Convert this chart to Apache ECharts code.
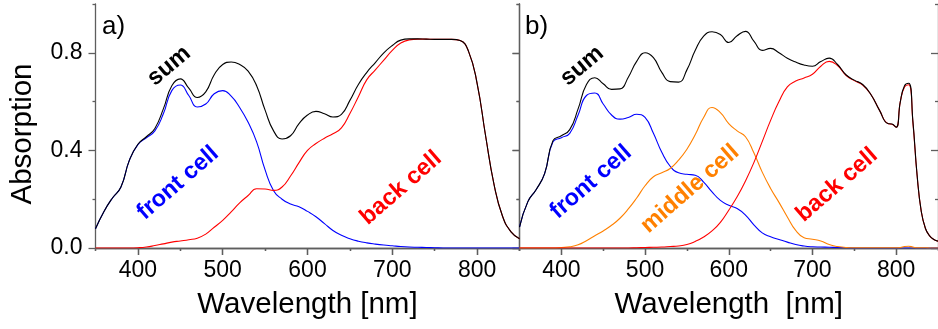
<!DOCTYPE html>
<html>
<head>
<meta charset="utf-8">
<script src="https://cdn.jsdelivr.net/npm/echarts@6/dist/echarts.min.js"></script>
<style>
  html, body { margin: 0; padding: 0; background: #fff; }
  #chart { width: 938px; height: 329px; }
</style>
</head>
<body>
<div id="chart"></div>
<script>
// wavelength grid of panel a) [nm]
const wavelengthA = [350, 360, 370, 380, 390, 400, 410, 420, 430, 440, 450, 460, 470, 480, 490,
  500, 510, 520, 530, 540, 550, 560, 570, 580, 590, 600, 610, 620, 630, 640, 650, 660, 670, 680, 690,
  700, 710, 720, 730, 740, 750, 760, 770, 780, 790, 800, 810, 820, 830, 840, 850];

const sumA = [0.079, 0.15, 0.205, 0.25, 0.36, 0.425, 0.456, 0.49, 0.57, 0.665, 0.693, 0.655, 0.617, 0.64, 0.71,
  0.752, 0.762, 0.752, 0.725, 0.665, 0.565, 0.48, 0.447, 0.46, 0.51, 0.545, 0.56, 0.55, 0.537, 0.548, 0.605, 0.67, 0.72, 0.76, 0.80,
  0.83, 0.852, 0.857, 0.857, 0.856, 0.855, 0.855, 0.855, 0.85, 0.805, 0.675, 0.46, 0.26, 0.13, 0.066, 0.038];

const frontA = [0.079, 0.15, 0.205, 0.25, 0.36, 0.424, 0.452, 0.48, 0.55, 0.645, 0.668, 0.625, 0.578, 0.59, 0.632,
  0.645, 0.622, 0.576, 0.515, 0.435, 0.32, 0.235, 0.2, 0.18, 0.169, 0.15, 0.128, 0.1, 0.072, 0.052, 0.038, 0.028, 0.021, 0.016, 0.012,
  0.009, 0.006, 0.004, 0.003, 0.002, 0.001, 0, 0, 0, 0, 0, 0, 0, 0, 0, 0];

const backA = [0, 0, 0, 0, 0, 0.001, 0.004, 0.01, 0.017, 0.024, 0.029, 0.034, 0.04, 0.057, 0.085,
  0.113, 0.148, 0.185, 0.215, 0.243, 0.242, 0.236, 0.25, 0.295, 0.35, 0.4, 0.428, 0.45, 0.468, 0.492, 0.551, 0.62, 0.69, 0.73, 0.77,
  0.81, 0.84, 0.853, 0.856, 0.856, 0.855, 0.855, 0.855, 0.85, 0.805, 0.675, 0.46, 0.26, 0.13, 0.066, 0.038];

// wavelength grid of panel b) [nm]
const wavelengthB = [350, 360, 370, 380, 390, 400, 410, 420, 430, 440, 450, 460, 470, 480, 490,
  500, 510, 520, 530, 540, 550, 560, 570, 580, 590, 600, 610, 620, 630, 640, 650, 660, 670, 680, 690,
  700, 710, 720, 730, 740, 750, 760, 770, 780, 790, 795, 800, 805, 810, 815, 820, 825, 830, 835, 840, 845, 850];

const sumB = [0.086, 0.19, 0.24, 0.305, 0.44, 0.46, 0.485, 0.57, 0.67, 0.698, 0.673, 0.65, 0.652, 0.70, 0.765,
  0.80, 0.78, 0.72, 0.682, 0.68, 0.73, 0.81, 0.868, 0.886, 0.875, 0.842, 0.87, 0.888, 0.848, 0.81, 0.818, 0.80, 0.778, 0.762, 0.75,
  0.745, 0.764, 0.778, 0.752, 0.71, 0.688, 0.67, 0.628, 0.565, 0.51, 0.508, 0.495, 0.6, 0.665, 0.675, 0.52, 0.30, 0.15, 0.08, 0.05, 0.035, 0.028];

const frontB = [0.086, 0.19, 0.24, 0.305, 0.435, 0.452, 0.47, 0.545, 0.625, 0.635, 0.59, 0.545, 0.528, 0.535, 0.548,
  0.535, 0.47, 0.392, 0.335, 0.308, 0.302, 0.298, 0.27, 0.23, 0.195, 0.175, 0.162, 0.135, 0.095, 0.062, 0.046, 0.035, 0.024, 0.014, 0.008,
  0.005, 0.004, 0.003, 0.002, 0.001, 0, 0, 0, 0, 0, 0, 0, 0, 0, 0, 0, 0, 0, 0, 0, 0, 0];

const middleB = [0, 0, 0, 0, 0, 0.002, 0.005, 0.013, 0.03, 0.05, 0.07, 0.093, 0.122, 0.16, 0.205,
  0.255, 0.292, 0.308, 0.326, 0.36, 0.405, 0.465, 0.535, 0.576, 0.555, 0.51, 0.48, 0.456, 0.39, 0.311, 0.244, 0.187, 0.127, 0.072, 0.042,
  0.036, 0.029, 0.014, 0.006, 0.002, 0.001, 0.001, 0.001, 0.001, 0.001, 0.001, 0.001, 0.002, 0.006, 0.007, 0.004, 0.001, 0.001, 0.001, 0, 0, 0];

const backB = [0, 0, 0, 0, 0, 0, 0, 0, 0, 0, 0, 0, 0, 0, 0.001,
  0.002, 0.003, 0.004, 0.006, 0.008, 0.014, 0.027, 0.045, 0.07, 0.105, 0.155, 0.21, 0.275, 0.35, 0.436, 0.523, 0.6, 0.66, 0.684, 0.697,
  0.712, 0.745, 0.765, 0.748, 0.708, 0.686, 0.668, 0.628, 0.565, 0.51, 0.507, 0.495, 0.6, 0.66, 0.669, 0.515, 0.298, 0.15, 0.08, 0.05, 0.035, 0.028];

// tick positions
const xMajorTicks = [400, 500, 600, 700, 800];
const xMinorTicks = [350, 450, 550, 650, 750, 850];
const yMajorTicks = [0, 0.4, 0.8];
const yMinorTicks = [0.2, 0.6, 1.0];

const FONT = '"Liberation Sans", Arial, Helvetica, sans-serif';
const FRAME = '#5e5e5e';

const chart = echarts.init(document.getElementById('chart'), null, { renderer: 'canvas' });

const grids = [
  { left: 95.5, top: 4, width: 424, height: 244 },
  { left: 519.5, top: 4, width: 424, height: 244 }
];

function pairs(xs, ys) {
  return xs.map((x, i) => [x, ys[i]]);
}

// one frame = 4 x axes + 4 y axes (major/minor ticks, bottom/left out, top/right in)
function frameAxes(gi, opts) {
  const lineStyle = { color: FRAME, width: 1.3 };
  const xBase = { gridIndex: gi, type: 'value', min: 350, max: 850, interval: 50, splitLine: { show: false } };
  const yBase = { gridIndex: gi, type: 'value', min: 0, max: 1, interval: 0.2, splitLine: { show: false } };
  const xAxes = [
    Object.assign({}, xBase, {
      position: 'bottom',
      axisLine: { show: true, lineStyle },
      axisTick: { show: true, inside: false, length: 7, customValues: xMajorTicks, lineStyle },
      axisLabel: {
        show: true, customValues: xMajorTicks, margin: 11,
        color: '#000', fontSize: 23, fontFamily: FONT
      },
      name: opts.xName, nameLocation: 'middle', nameGap: 42,
      nameTextStyle: { color: '#000', fontSize: 29.5, fontFamily: FONT }
    }),
    Object.assign({}, xBase, {
      position: 'bottom',
      axisLine: { show: false },
      axisTick: { show: true, inside: false, length: 3, customValues: xMinorTicks, lineStyle },
      axisLabel: { show: false }
    }),
    Object.assign({}, xBase, {
      position: 'top',
      axisLine: { show: true, lineStyle },
      axisTick: { show: true, inside: true, length: 7, customValues: xMajorTicks, lineStyle },
      axisLabel: { show: false }
    }),
    Object.assign({}, xBase, {
      position: 'top',
      axisLine: { show: false },
      axisTick: { show: true, inside: true, length: 3, customValues: xMinorTicks, lineStyle },
      axisLabel: { show: false }
    })
  ];
  const yAxes = [
    Object.assign({}, yBase, {
      position: 'left',
      axisLine: { show: true, lineStyle },
      axisTick: { show: true, inside: false, length: 7, customValues: yMajorTicks, lineStyle },
      axisLabel: {
        show: opts.yLabels, customValues: yMajorTicks, margin: 13,
        color: '#000', fontSize: 23, fontFamily: FONT,
        formatter: (v) => Number(v).toFixed(1)
      },
      name: opts.yName, nameLocation: 'middle', nameGap: 58, nameRotate: 90,
      nameTextStyle: { color: '#000', fontSize: 29.5, fontFamily: FONT, padding: [0, 16, 0, 0] }
    }),
    Object.assign({}, yBase, {
      position: 'left',
      axisLine: { show: false },
      axisTick: { show: true, inside: false, length: 3, customValues: yMinorTicks, lineStyle },
      axisLabel: { show: false }
    }),
    Object.assign({}, yBase, {
      position: 'right',
      axisLine: { show: true, lineStyle },
      axisTick: { show: true, inside: true, length: 7, customValues: yMajorTicks, lineStyle },
      axisLabel: { show: false }
    }),
    Object.assign({}, yBase, {
      position: 'right',
      axisLine: { show: false },
      axisTick: { show: true, inside: true, length: 3, customValues: yMinorTicks, lineStyle },
      axisLabel: { show: false }
    })
  ];
  return { xAxes, yAxes };
}

const frameA = frameAxes(0, { xName: 'Wavelength [nm]', yName: 'Absorption', yLabels: true });
const frameB = frameAxes(1, { xName: 'Wavelength  [nm]', yName: '', yLabels: false });

function curve(name, xs, ys, color, axisIdx) {
  return {
    name, type: 'line', data: pairs(xs, ys),
    xAxisIndex: axisIdx, yAxisIndex: axisIdx,
    showSymbol: false, smooth: 0.5,
    lineStyle: { color, width: 1.1 }, z: 3, animation: false
  };
}

// annotation labels (pixel placed)
function note(text, x, y, color, rotDeg, size) {
  return {
    type: 'text', x, y, rotation: rotDeg * Math.PI / 180, z: 10,
    style: {
      text, fill: color, align: 'center', verticalAlign: 'middle',
      font: 'bold ' + size + 'px ' + FONT
    }
  };
}

chart.setOption({
  backgroundColor: '#fff',
  animation: false,
  grid: grids,
  xAxis: frameA.xAxes.concat(frameB.xAxes),
  yAxis: frameA.yAxes.concat(frameB.yAxes),
  series: [
    curve('front cell a', wavelengthA, frontA, '#0000ff', 0),
    curve('back cell a', wavelengthA, backA, '#ff0000', 0),
    curve('sum a', wavelengthA, sumA, '#000000', 0),
    curve('front cell b', wavelengthB, frontB, '#0000ff', 4),
    curve('middle cell b', wavelengthB, middleB, '#ff8000', 4),
    curve('back cell b', wavelengthB, backB, '#ff0000', 4),
    curve('sum b', wavelengthB, sumB, '#000000', 4)
  ],
  graphic: [
    { type: 'text', x: 102, y: 27, z: 10, style: { text: 'a)', fill: '#000', font: '26px ' + FONT, align: 'left', verticalAlign: 'middle' } },
    { type: 'text', x: 525, y: 27, z: 10, style: { text: 'b)', fill: '#000', font: '26px ' + FONT, align: 'left', verticalAlign: 'middle' } },
    note('sum', 169, 66, '#000000', 40, 23.5),
    note('front cell', 178, 183, '#0000ff', 41, 23.5),
    note('back cell', 401, 188, '#ff0000', 41, 23.5),
    note('sum', 582, 66, '#000000', 40, 23.5),
    note('front cell', 591, 182, '#0000ff', 41, 23.5),
    note('middle cell', 690, 189, '#ff8000', 41, 23.5),
    note('back cell', 837, 185, '#ff0000', 41, 23.5)
  ]
});
</script>
</body>
</html>
